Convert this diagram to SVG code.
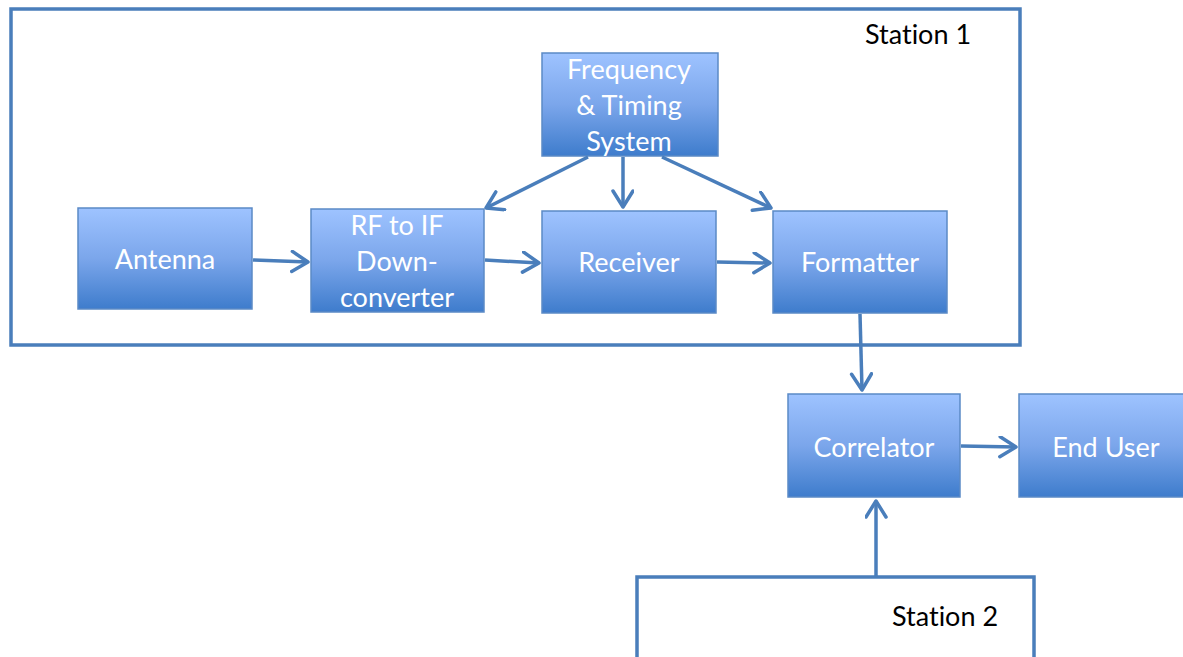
<svg xmlns="http://www.w3.org/2000/svg" width="1183" height="657" viewBox="0 0 1183 657">
<defs>
<linearGradient id="g" x1="0" y1="0" x2="0" y2="1">
<stop offset="0" stop-color="#9ec3ff"/>
<stop offset="0.5" stop-color="#7ba6eb"/>
<stop offset="1" stop-color="#3e7ccc"/>
</linearGradient>
<marker id="ah" markerUnits="userSpaceOnUse" markerWidth="24" markerHeight="26" refX="18" refY="11" orient="auto" viewBox="0 0 24 26">
<path d="M2,1 L18,11 L2,21" fill="none" stroke="#4a7ebb" stroke-width="3.5" stroke-linecap="round" stroke-linejoin="round"/>
</marker>
<style>
.st{fill:none;stroke:#4a7ebb;stroke-width:3.5}
.box{fill:url(#g);stroke:#5b8ac6;stroke-width:1.5}
.t{font-family:Lato,"Liberation Sans",sans-serif;font-size:27px;fill:#ffffff;text-anchor:middle;font-variant-ligatures:none}
.lbl{font-family:Lato,"Liberation Sans",sans-serif;font-size:27px;fill:#000000;font-variant-ligatures:none}
.c{fill:none;stroke:#4a7ebb;stroke-width:3.5;marker-end:url(#ah)}
</style>
</defs>
<g id="station1">
<rect class="st" x="11" y="9" width="1009" height="336"/>
<text class="lbl" x="865" y="44">Station 1</text>
</g>
<g id="station2">
<rect class="st" x="637" y="577" width="397" height="100"/>
<text class="lbl" x="892" y="626">Station 2</text>
</g>
<g id="freq">
<rect class="box" x="542" y="53" width="176" height="103"/>
<text class="t" x="629" y="79">Frequency</text>
<text class="t" x="629" y="115">&amp; Timing</text>
<text class="t" x="629" y="151">System</text>
</g>
<g id="antenna">
<rect class="box" x="78" y="208" width="174" height="101"/>
<text class="t" x="165" y="269">Antenna</text>
</g>
<g id="rfif">
<rect class="box" x="311" y="209" width="173" height="103"/>
<text class="t" x="397" y="235">RF to IF</text>
<text class="t" x="397" y="271">Down-</text>
<text class="t" x="397" y="307">converter</text>
</g>
<g id="receiver">
<rect class="box" x="542" y="211" width="174" height="102"/>
<text class="t" x="629" y="272">Receiver</text>
</g>
<g id="formatter">
<rect class="box" x="773" y="211" width="174" height="102"/>
<text class="t" x="860" y="272">Formatter</text>
</g>
<g id="correlator">
<rect class="box" x="788" y="394" width="172" height="103"/>
<text class="t" x="874" y="457">Correlator</text>
</g>
<g id="enduser">
<rect class="box" x="1019" y="394" width="170" height="103"/>
<text class="t" x="1106" y="457">End User</text>
</g>
<g id="connectors">
<line class="c" x1="253" y1="260" x2="308" y2="262"/>
<line class="c" x1="485" y1="260" x2="539" y2="263"/>
<line class="c" x1="717" y1="262" x2="770" y2="263"/>
<line class="c" x1="588" y1="157" x2="486" y2="208"/>
<line class="c" x1="623" y1="157" x2="623" y2="207"/>
<line class="c" x1="662" y1="157" x2="771" y2="208"/>
<line class="c" x1="860" y1="314" x2="862" y2="390"/>
<line class="c" x1="961" y1="446" x2="1016" y2="447"/>
<line class="c" x1="876" y1="576" x2="876" y2="501"/>
</g>
</svg>
